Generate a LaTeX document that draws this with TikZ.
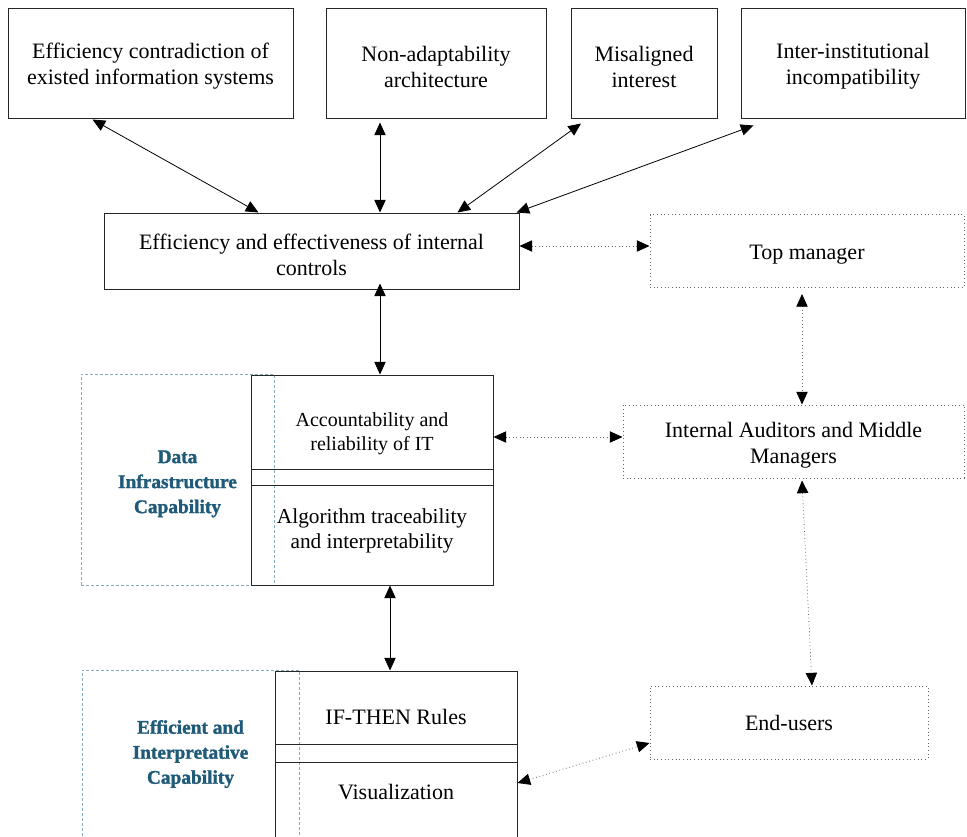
\documentclass[tikz,border=0pt]{standalone}
\usepackage{fontspec}
\setmainfont{Liberation Serif}
\newfontfamily\capfont[FakeBold=1.5]{Liberation Serif Bold}
\usepackage{xcolor}
\usepackage{tikz}
\usetikzlibrary{arrows.meta, calc, positioning}
\definecolor{capblue}{HTML}{1F5A78}
\definecolor{capline}{HTML}{86A9BF}
\newcommand{\mainfont}{\fontsize{16.5}{19.5}\selectfont}
\newcommand{\lift}{\rule{0pt}{17pt}}
\tikzstyle{issue} = [rectangle, draw=black!85, line width=0.75pt, align=center, font=\mainfont, inner sep=0pt, minimum height=82.5pt]
\tikzstyle{control} = [rectangle, draw=black!85, line width=0.75pt, align=center, font=\mainfont, inner sep=0pt, minimum width=181.5pt]
\tikzstyle{actor} = [rectangle, draw=black!60, dotted, line width=0.75pt, align=center, font=\mainfont, inner sep=0pt, minimum height=54.75pt]
\tikzstyle{capab} = [rectangle, draw=capline, dash pattern=on 2.25pt off 1.5pt, line width=0.75pt, align=center, text=capblue, font=\fontsize{14.5}{18.75}\selectfont\capfont, inner sep=0pt]
\tikzstyle{arrow} = [line width=0.6pt, <->, >={Triangle[length=9.5pt, width=8.5pt, color=black]}]
\tikzstyle{dotarrow} = [arrow, draw=black!60, dotted]

\begin{document}
\begin{tikzpicture}[x=0.75pt, y=-0.75pt]
	\useasboundingbox (0,0) rectangle (967,836);
	\clip (0,0) rectangle (967,836);
	% barriers on top
	\node (b1) [issue, minimum width=213.75pt] at (150.5,63) {\lift Efficiency contradiction of\\existed information systems};
	\node (b2) [issue, minimum width=165pt] at (436,63) {\lift Non-adaptability\\architecture};
	\node (b3) [issue, minimum width=109.5pt] at (644,63) {\lift Misaligned\\interest};
	\node (b4) [issue, minimum width=168pt] at (853,63) {\lift Inter-institutional\\incompatibility};
	\node (mid) [issue, minimum width=311.25pt, minimum height=57pt] at (311.5,251) {\lift Efficiency and effectiveness of internal\\controls};
	% actors
	\node (top) [actor, minimum width=235.5pt] at (807,251) {\lift Top manager};
	\node (ia) [actor, minimum width=255.75pt] at (793.5,441.5) {\lift Internal Auditors and Middle\\Managers};
	\node (eu) [actor, minimum width=208.5pt] at (789,722.5) {End-users};
	% capabilities
	\node (cap1) [capab, minimum width=144.75pt, minimum height=158.25pt] at (177.5,479.5) {\rule{0pt}{16pt}Data\\Infrastructure\\Capability};
	\node (cap2) [capab, minimum width=162.75pt, minimum height=126pt] at (190.5,754) {Efficient and\\Interpretative\\Capability};
	\node (acc) [control, minimum height=70.5pt, font=\fontsize{15}{18}\selectfont] at (372,422) {\rule{0pt}{28pt}Accountability and\\reliability of IT};
	\node (band1) [control, minimum height=12pt] at (372,477) {};
	\node (alg) [control, minimum height=75pt, font=\fontsize{16}{18.75}\selectfont] at (372,535) {Algorithm traceability\\and interpretability\rule[-9pt]{0pt}{9pt}};
	\node (rules) [control, minimum height=54.75pt] at (396,707.5) {\rule{0pt}{26pt}IF-THEN Rules};
	\node (band2) [control, minimum height=13.5pt] at (396,753) {};
	\node (vis) [control, minimum height=81pt] at (396,816) {Visualization\rule[-36pt]{0pt}{36pt}};
	% links
	\draw [arrow] ($(b1.south)+(-58,1)$) -- ($(mid.north)+(-53,0)$);
	\draw [arrow] ($(b2.south)+(-56,4)$) -- ($(mid.north)+(68.5,0)$);
	\draw [arrow] ($(b3.south)+(-63,5)$) -- ($(mid.north)+(146,0)$);
	\draw [arrow] ($(b4.south)+(-99.5,7)$) -- ($(mid.north)+(205,0)$);
	\draw [dotarrow] ($(mid.east)+(0,-5)$) -- ($(top.west)+(0,-5)$);
	\draw [arrow] ($(mid.south)+(68.5,-6)$) -- ($(acc.north)+(8,0)$);
	\draw [dotarrow] ($(top.south)+(-5,6)$) -- ($(ia.north)+(8.5,0)$);
	\draw [dotarrow] ($(acc.east)+(0,15)$) -- ($(ia.west)+(0,-4.5)$);
	\draw [arrow] ($(alg.south)+(18,0)$) -- ($(rules.north)+(-6,0)$);
	\draw [dotarrow] ($(ia.south)+(8.5,2)$) -- ($(eu.north)+(23,0)$);
	\draw [dotarrow] ($(vis.east)+(0,-33)$) -- ($(eu.west)+(0,20.5)$);
\end{tikzpicture}
\end{document}
